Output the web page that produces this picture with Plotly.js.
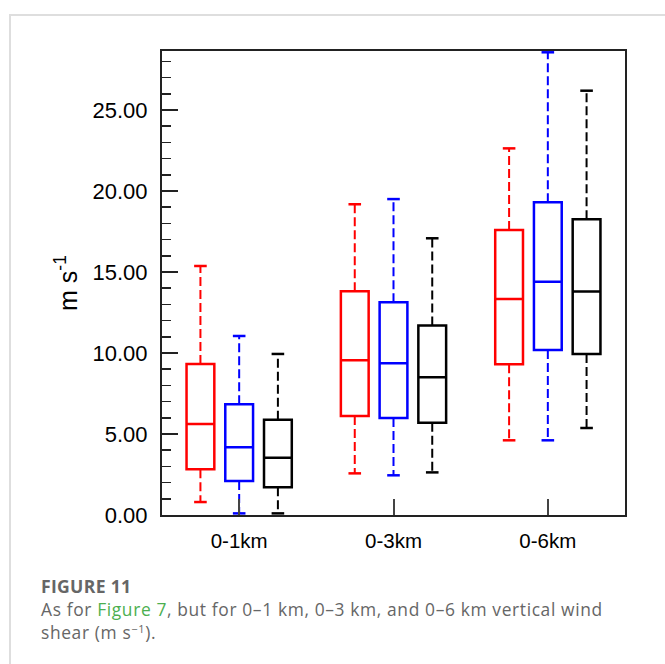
<!DOCTYPE html>
<html><head><meta charset="utf-8">
<script src="https://cdn.plot.ly/plotly-3.0.1.min.js"></script>
<style>
html,body{margin:0;padding:0;background:#fff;}
#wrap{position:relative;width:665px;height:664px;overflow:hidden;background:#fff;}
#chart{position:absolute;left:0;top:0;width:665px;height:664px;}
.bt{position:absolute;left:9px;top:14px;width:656px;height:2px;background:#dedede;}
.bl{position:absolute;left:9px;top:14px;width:2px;height:650px;background:#dedede;}
.cap{position:absolute;left:41px;font-family:'Open Sans',sans-serif;color:#666;font-size:17.4px;letter-spacing:0.63px;white-space:nowrap;}
.cap a{color:#4caf50;text-decoration:none;}
sup{font-size:11px;vertical-align:6px;line-height:0;}
</style></head>
<body>
<div id="wrap">
<div class="bt"></div><div class="bl"></div>
<div id="chart"></div>
<div class="cap" style="top:574px;font-weight:700;font-size:17.6px;letter-spacing:0.3px;">FIGURE 11</div>
<div class="cap" style="top:597px;">As for <a>Figure 7</a>, but for 0–1 km, 0–3 km, and 0–6 km vertical wind</div>
<div class="cap" style="top:620px;">shear (m s<sup>−1</sup>).</div>
</div>
<script>
// categories and tick labels
var categories = ['0-1km', '0-3km', '0-6km'];
var seriesNames = ['A', 'B', 'C'];
var seriesColors = ['#ff0000', '#0000ff', '#000000'];

// box statistics per series (one value per category)
var lowerA  = [0.80, 2.57, 4.61];
var q1A     = [2.82, 6.11, 9.30];
var medA    = [5.62, 9.55, 13.33];
var q3A     = [9.32, 13.81, 17.59];
var upperA  = [15.37, 19.18, 22.63];

var lowerB  = [0.10, 2.45, 4.61];
var q1B     = [2.10, 5.99, 10.19];
var medB    = [4.18, 9.36, 14.40];
var q3B     = [6.83, 13.13, 19.30];
var upperB  = [11.05, 19.50, 28.56];

var lowerC  = [0.10, 2.63, 5.37];
var q1C     = [1.71, 5.70, 9.94];
var medC    = [3.54, 8.50, 13.79];
var q3C     = [5.88, 11.69, 18.25];
var upperC  = [9.94, 17.08, 26.19];

var yTickVals = [0, 5, 10, 15, 20, 25];

var stats = [
  {lower: lowerA, q1: q1A, med: medA, q3: q3A, upper: upperA},
  {lower: lowerB, q1: q1B, med: medB, q3: q3B, upper: upperB},
  {lower: lowerC, q1: q1C, med: medC, q3: q3C, upper: upperC}
];

var groupOffset = 0.251;
var boxWidth = 0.18;
var traces = [];
stats.forEach(function(s, k) {
  var off = (k - 1) * groupOffset;
  var xs = categories.map(function(c, i) { return i + off; });
  var col = seriesColors[k];
  traces.push({
    type: 'box', name: seriesNames[k], x: xs,
    q1: s.q1, median: s.med, q3: s.q3,
    lowerfence: s.q1, upperfence: s.q3,
    width: boxWidth, whiskerwidth: 0,
    fillcolor: 'rgba(0,0,0,0)',
    line: {color: col, width: 2.5},
    boxpoints: false, hoverinfo: 'skip', showlegend: false
  });
  var wx = [], wy = [];
  xs.forEach(function(x, i) {
    wx.push(x, x, null, x, x, null);
    wy.push(s.q3[i], s.upper[i], null, s.q1[i], s.lower[i], null);
  });
  traces.push({
    type: 'scatter', mode: 'lines', x: wx, y: wy,
    line: {color: col, width: 2, dash: '9px,4px'},
    hoverinfo: 'skip', showlegend: false
  });
  traces.push({
    type: 'scatter', mode: 'markers',
    x: xs.concat(xs), y: s.upper.concat(s.lower),
    marker: {symbol: 'line-ew', size: 9, color: col, line: {color: col, width: 2.5}},
    cliponaxis: false, hoverinfo: 'skip', showlegend: false
  });
});

var layout = {
  width: 665, height: 664,
  margin: {l: 162, r: 40, t: 51, b: 149},
  paper_bgcolor: 'rgba(0,0,0,0)', plot_bgcolor: '#fff',
  showlegend: false,
  font: {family: 'Liberation Sans, Arial, sans-serif', color: '#000'},
  xaxis: {
    range: [-0.5, 2.5], tickvals: [0, 1, 2], ticktext: categories,
    ticks: 'inside', ticklen: 16, tickwidth: 2, tickcolor: '#444',
    showline: true, linecolor: '#222', linewidth: 2, mirror: true,
    showgrid: false, zeroline: false,
    tickfont: {size: 20.5, color: '#000'}, ticklabelstandoff: 6
  },
  yaxis: {
    range: [0, 28.64], tickvals: yTickVals, tickformat: '.2f',
    ticks: 'inside', ticklen: 16, tickwidth: 2, tickcolor: '#222',
    minor: {dtick: 1, ticks: 'inside', ticklen: 9, tickwidth: 1.5, tickcolor: '#222', showgrid: false},
    showline: true, linecolor: '#222', linewidth: 2, mirror: true,
    showgrid: false, zeroline: false,
    tickfont: {size: 22, color: '#000'}, ticklabelstandoff: 8,
    title: {text: 'm s<sup>-1</sup>', font: {size: 25, color: '#000'}, standoff: 8}
  }
};

Plotly.newPlot('chart', traces, layout, {displayModeBar: false, staticPlot: true});
</script>
</body></html>
